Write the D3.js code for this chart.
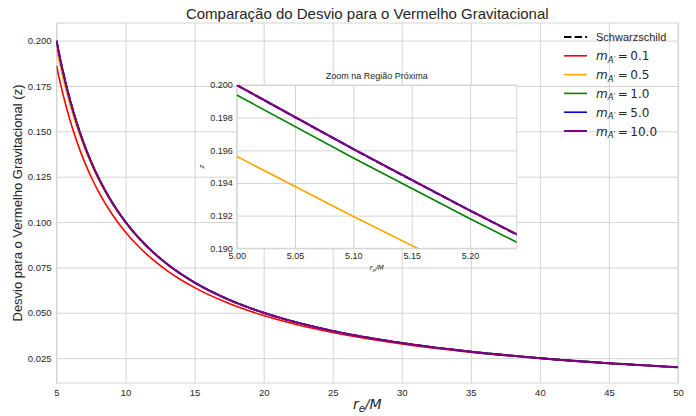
<!DOCTYPE html>
<html lang="pt">
<head>
<meta charset="utf-8">
<title>Desvio para o Vermelho Gravitacional</title>
<script src="https://cdn.jsdelivr.net/npm/d3@7"></script>
<style>
  body { margin: 0; background: #fff; }
  text { fill: #262626; font-family: "Liberation Sans", Arial, sans-serif; }
  .math { font-family: "DejaVu Sans", sans-serif; }
</style>
</head>
<body>
<div id="chart"></div>
<script>
// raio de emissão r_e/M
const rValues = [5, 5.1, 5.2, 5.3, 5.5, 6, 6.5, 7, 7.5, 8, 9, 10, 11, 12, 13, 14, 15, 17.5, 20, 22.5, 25, 30, 35, 40, 45, 50];

// desvio z
const zSchwarzschild = [0.2, 0.19608, 0.19231, 0.18868, 0.18182, 0.16667, 0.15385, 0.14286, 0.13333, 0.125, 0.11111, 0.1, 0.09091, 0.08333, 0.07692, 0.07143, 0.06667, 0.05714, 0.05, 0.04444, 0.04, 0.03333, 0.02857, 0.025, 0.02222, 0.02];
const zM01 = [0.18617, 0.18257, 0.1791, 0.17577, 0.16946, 0.15554, 0.14378, 0.13369, 0.12496, 0.11732, 0.10459, 0.09441, 0.08608, 0.07914, 0.07326, 0.06822, 0.06384, 0.05507, 0.04846, 0.04329, 0.03913, 0.03283, 0.02828, 0.02483, 0.02212, 0.01994];
const zM05 = [0.19563, 0.19195, 0.1884, 0.18498, 0.17851, 0.16414, 0.15192, 0.14138, 0.1322, 0.12413, 0.1106, 0.09969, 0.09073, 0.08322, 0.07685, 0.07139, 0.06664, 0.05713, 0.05, 0.04444, 0.04, 0.03333, 0.02857, 0.025, 0.02222, 0.02];
const zM10 = [0.19939, 0.19553, 0.19181, 0.18823, 0.18145, 0.16645, 0.15372, 0.14278, 0.13328, 0.12497, 0.1111, 0.09996, 0.09091, 0.08333, 0.07692, 0.07143, 0.06667, 0.05714, 0.05, 0.04444, 0.04, 0.03333, 0.02857, 0.025, 0.02222, 0.02];
const zM50 = [0.2, 0.19608, 0.19231, 0.18868, 0.18182, 0.16667, 0.15385, 0.14286, 0.13333, 0.125, 0.11111, 0.1, 0.09091, 0.08333, 0.07692, 0.07143, 0.06667, 0.05714, 0.05, 0.04444, 0.04, 0.03333, 0.02857, 0.025, 0.02222, 0.02];
const zM100 = [0.2, 0.19608, 0.19231, 0.18868, 0.18182, 0.16667, 0.15385, 0.14286, 0.13333, 0.125, 0.11111, 0.1, 0.09091, 0.08333, 0.07692, 0.07143, 0.06667, 0.05714, 0.05, 0.04444, 0.04, 0.03333, 0.02857, 0.025, 0.02222, 0.02];

const massLabels = ["0.1", "0.5", "1.0", "5.0", "10.0"];

// ticks
const xTicks = [5, 10, 15, 20, 25, 30, 35, 40, 45, 50];
const yTicks = [0.025, 0.05, 0.075, 0.1, 0.125, 0.15, 0.175, 0.2];
const xTicksInset = [5.0, 5.05, 5.1, 5.15, 5.2];
const yTicksInset = [0.19, 0.192, 0.194, 0.196, 0.198, 0.2];

const series = [
  {name: "Schwarzschild", values: zSchwarzschild, color: "#000", width: 2, dash: "7.4,3.2"},
  {name: massLabels[0], values: zM01, color: "red", width: 1.6},
  {name: massLabels[1], values: zM05, color: "orange", width: 1.6},
  {name: massLabels[2], values: zM10, color: "green", width: 1.6},
  {name: massLabels[3], values: zM50, color: "blue", width: 1.6},
  {name: massLabels[4], values: zM100, color: "purple", width: 2}
];

const W = 696, H = 416;
const margin = {top: 23, right: 18, bottom: 33, left: 56.5};
const width = W - margin.left - margin.right,
      height = H - margin.top - margin.bottom;
const gridColor = "#d4d4d4";

const svg = d3.select("#chart").append("svg")
  .attr("width", W).attr("height", H);

const g = svg.append("g")
  .attr("transform", "translate(" + margin.left + "," + margin.top + ")");

const x = d3.scaleLinear().domain([5, 50]).range([0, width]);
const y = d3.scaleLinear().domain([0.0113, 0.2097]).range([height, 0]);

// grid
g.append("g")
  .attr("transform", "translate(0," + height + ")")
  .call(d3.axisBottom(x).tickValues(xTicks).tickSize(-height).tickFormat(d3.format("d")).tickPadding(6))
  .call(ax => ax.select(".domain").remove())
  .call(ax => ax.selectAll("line").attr("stroke", gridColor))
  .call(ax => ax.selectAll("text").attr("font-size", 9.5).attr("fill", "#262626"));

g.append("g")
  .call(d3.axisLeft(y).tickValues(yTicks).tickSize(-width).tickFormat(d3.format(".3f")).tickPadding(5))
  .call(ax => ax.select(".domain").remove())
  .call(ax => ax.selectAll("line").attr("stroke", gridColor))
  .call(ax => ax.selectAll("text").attr("font-size", 9.5).attr("fill", "#262626"));

g.append("rect")
  .attr("width", width).attr("height", height)
  .attr("fill", "none").attr("stroke", gridColor);

g.append("defs").append("clipPath").attr("id", "clip-main")
  .append("rect").attr("width", width).attr("height", height);

const line = d3.line()
  .x((d, i) => x(rValues[i]))
  .y(d => y(d))
  .curve(d3.curveMonotoneX);

const lines = g.append("g").attr("clip-path", "url(#clip-main)");
series.forEach(s => {
  lines.append("path")
    .datum(s.values)
    .attr("fill", "none")
    .attr("stroke", s.color)
    .attr("stroke-width", s.width)
    .attr("stroke-dasharray", s.dash || null)
    .attr("d", line);
});

// title and labels
svg.append("text")
  .attr("x", margin.left + width / 2).attr("y", 19)
  .attr("text-anchor", "middle").attr("font-size", 15)
  .text("Comparação do Desvio para o Vermelho Gravitacional");

svg.append("text")
  .attr("transform", "translate(22," + (margin.top + height / 2) + ") rotate(-90)")
  .attr("text-anchor", "middle").attr("font-size", 13)
  .text("Desvio para o Vermelho Gravitacional (z)");

const xl = svg.append("text")
  .attr("class", "math")
  .attr("x", margin.left + width / 2).attr("y", 409)
  .attr("text-anchor", "middle").attr("font-size", 14).attr("font-style", "italic");
xl.append("tspan").text("r");
xl.append("tspan").attr("font-size", 10).attr("dy", 3).text("e");
xl.append("tspan").attr("dy", -3).text("/M");

// legend
const legend = svg.append("g").attr("transform", "translate(564,37)");
series.forEach((s, i) => {
  const row = legend.append("g").attr("transform", "translate(0," + (i * 18.8) + ")");
  row.append("line")
    .attr("x1", 0).attr("x2", 23)
    .attr("stroke", s.color)
    .attr("stroke-width", s.width)
    .attr("stroke-dasharray", s.dash || null);
  if (i === 0) {
    row.append("text").attr("x", 32).attr("y", 4).attr("font-size", 11).text(s.name);
  } else {
    const t = row.append("text").attr("class", "math").attr("x", 32).attr("y", 4.5).attr("font-size", 12);
    t.append("tspan").attr("font-style", "italic").text("m");
    t.append("tspan").attr("font-style", "italic").attr("font-size", 8.5).attr("dy", 2.5).text("A′");
    t.append("tspan").attr("dy", -2.5).text("\u2009=\u2009" + s.name);
  }
});

// inset
const inset = {left: 236.7, top: 85, width: 280, height: 163.3};
const gi = svg.append("g")
  .attr("transform", "translate(" + inset.left + "," + inset.top + ")");

const xi = d3.scaleLinear().domain([5, 5.24]).range([0, inset.width]);
const yi = d3.scaleLinear().domain([0.19, 0.2]).range([inset.height, 0]);

gi.append("rect")
  .attr("width", inset.width).attr("height", inset.height)
  .attr("fill", "#fff");

gi.append("g")
  .attr("transform", "translate(0," + inset.height + ")")
  .call(d3.axisBottom(xi).tickValues(xTicksInset).tickSize(-inset.height).tickFormat(d3.format(".2f")).tickPadding(4))
  .call(ax => ax.select(".domain").remove())
  .call(ax => ax.selectAll("line").attr("stroke", gridColor))
  .call(ax => ax.selectAll("text").attr("font-size", 9).attr("fill", "#262626"));

gi.append("g")
  .call(d3.axisLeft(yi).tickValues(yTicksInset).tickSize(-inset.width).tickFormat(d3.format(".3f")).tickPadding(4))
  .call(ax => ax.select(".domain").remove())
  .call(ax => ax.selectAll("line").attr("stroke", gridColor))
  .call(ax => ax.selectAll("text").attr("font-size", 9).attr("fill", "#262626"));

gi.append("rect")
  .attr("width", inset.width).attr("height", inset.height)
  .attr("fill", "none").attr("stroke", gridColor);

gi.append("defs").append("clipPath").attr("id", "clip-inset")
  .append("rect").attr("width", inset.width).attr("height", inset.height);

const lineInset = d3.line()
  .x((d, i) => xi(rValues[i]))
  .y(d => yi(d))
  .curve(d3.curveMonotoneX);

const insetLines = gi.append("g").attr("clip-path", "url(#clip-inset)");
series.forEach(s => {
  insetLines.append("path")
    .datum(s.values)
    .attr("fill", "none")
    .attr("stroke", s.color)
    .attr("stroke-width", s.width)
    .attr("stroke-dasharray", s.dash || null)
    .attr("d", lineInset);
});

gi.append("text")
  .attr("x", inset.width / 2).attr("y", -6)
  .attr("text-anchor", "middle").attr("font-size", 9)
  .text("Zoom na Região Próxima");

const xli = gi.append("text")
  .attr("class", "math")
  .attr("x", inset.width / 2).attr("y", inset.height + 22)
  .attr("text-anchor", "middle").attr("font-size", 7).attr("font-style", "italic");
xli.append("tspan").text("r");
xli.append("tspan").attr("font-size", 5).attr("dy", 1.5).text("e");
xli.append("tspan").attr("dy", -1.5).text("/M");

gi.append("text")
  .attr("class", "math")
  .attr("transform", "translate(-33," + (inset.height / 2) + ") rotate(-90)")
  .attr("text-anchor", "middle").attr("font-size", 7).attr("font-style", "italic")
  .text("z");
</script>
</body>
</html>
